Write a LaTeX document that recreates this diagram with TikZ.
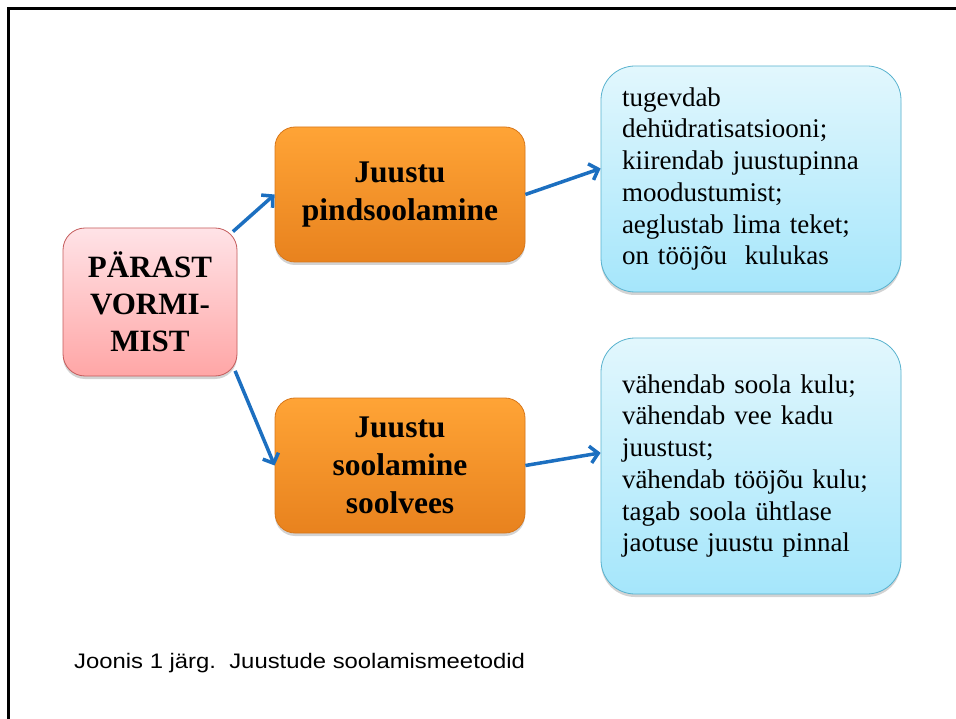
\documentclass[tikz,border=0pt]{standalone}
\usepackage{fontspec}
\setmainfont{Liberation Serif}
\newfontfamily\capfont{Liberation Sans}
\usetikzlibrary{arrows.meta,shadows}

\definecolor{arrowblue}{HTML}{1C6FC0}
\definecolor{pinktop}{HTML}{FFE3E7}
\definecolor{pinkbot}{HTML}{FFA6A6}
\definecolor{pinkline}{HTML}{C45C5C}
\definecolor{orangetop}{HTML}{FFA436}
\definecolor{orangebot}{HTML}{E8821E}
\definecolor{orangeline}{HTML}{D8771A}
\definecolor{bluetop}{HTML}{E2F7FD}
\definecolor{bluebot}{HTML}{A5E6FB}
\definecolor{blueline}{HTML}{58B2CE}

\begin{document}
\begin{tikzpicture}[x=1pt,y=-1pt,>={Straight Barb[length=8pt,width=17pt]},
  blue arrow/.style={->,draw=arrowblue,line width=3.5pt},
  box shadow/.style={drop shadow={shadow xshift=0pt,shadow yshift=-3pt,opacity=0.35}},
  pink node/.style={box shadow,rounded corners=22pt,top color=pinktop,bottom color=pinkbot,
    draw=pinkline,line width=0.8pt,align=center,minimum width=174pt,minimum height=148pt,
    font=\fontsize{31}{37}\selectfont\bfseries},
  orange node/.style={box shadow,rounded corners=20pt,top color=orangetop,bottom color=orangebot,
    draw=orangeline,line width=0.8pt,align=center,minimum width=250pt,minimum height=135pt,
    font=\fontsize{31.5}{38}\selectfont\bfseries},
  blue node/.style={box shadow,rounded corners=34pt,top color=bluetop,bottom color=bluebot,
    draw=blueline,line width=0.8pt,align=left,text width=258pt,inner xsep=21pt,
    minimum width=300pt,font=\fontsize{27}{31.7}\selectfont}]

\useasboundingbox (0,0) rectangle (956,719);
\draw[line width=3pt] (8,719) -- (8,9) -- (956,9);

\node[pink node](P) at (150,302) {PÄRAST\\VORMI-\\MIST};
\node[orange node](J1) at (400,194.5) {Juustu\\pindsoolamine};
\node[orange node](J2) at (400,465.5) {Juustu\\soolamine\\soolvees};
\node[blue node,minimum height=226pt](B1) at (751,179) {tugevdab\\dehüdratisatsiooni;\\kiirendab juustupinna\\moodustumist;\\aeglustab lima teket;\\on tööjõu\ \ kulukas};
\node[blue node,minimum height=256pt](B2) at (751,466) {vähendab soola kulu;\\vähendab vee kadu\\juustust;\\vähendab tööjõu kulu;\\tagab soola ühtlase\\jaotuse juustu pinnal};
\node[anchor=base west,inner sep=0pt,font=\capfont\fontsize{21}{24}\selectfont](cap) at (74,668)
  {\scalebox{1.136}[1]{Joonis 1 järg.\ \ Juustude soolamismeetodid}};

\path
(P.north east) edge[blue arrow,shorten <=-6pt] (J1.west)
(P.south east) edge[blue arrow,shorten <=-6pt] (J2.west)
(J1.east) edge[blue arrow] (B1.176)
(J2.east) edge[blue arrow] (B2.175);

\end{tikzpicture}
\end{document}
